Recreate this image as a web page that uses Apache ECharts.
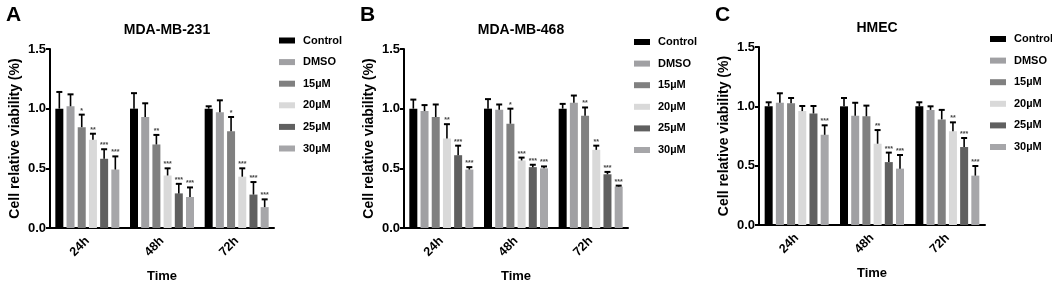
<!DOCTYPE html>
<html>
<head>
<meta charset="utf-8">
<script src="https://cdn.jsdelivr.net/npm/echarts@6/dist/echarts.min.js"></script>
<style>
  html, body { margin: 0; padding: 0; background: #fff; }
  #chart { width: 1052px; height: 282px; }
</style>
</head>
<body>
<div id="chart"></div>
<script>
const times = ['24h', '48h', '72h'];
const groups = ['Control', 'DMSO', '15µM', '20µM', '25µM', '30µM'];
const colors = ['#000000', '#a0a0a3', '#808080', '#d9d9d9', '#606060', '#a6a6a9'];
const yTicks = [0, 0.5, 1.0, 1.5];

// MDA-MB-231 (mean / sd / significance), one row per group
const mb231Mean = [
  [1.00, 1.00, 1.00],
  [1.02, 0.93, 0.97],
  [0.845, 0.70, 0.81],
  [0.74, 0.44, 0.43],
  [0.58, 0.29, 0.28],
  [0.49, 0.26, 0.175]
];
const mb231Sd = [
  [0.14, 0.13, 0.02],
  [0.10, 0.115, 0.10],
  [0.105, 0.08, 0.12],
  [0.05, 0.06, 0.07],
  [0.08, 0.08, 0.105],
  [0.11, 0.08, 0.065]
];
const mb231Sig = [
  ['', '', ''],
  ['', '', ''],
  ['*', '**', '*'],
  ['**', '***', '***'],
  ['***', '***', '***'],
  ['***', '***', '***']
];

// MDA-MB-468
const mb468Mean = [
  [1.00, 1.00, 1.00],
  [0.98, 0.99, 1.05],
  [0.93, 0.874, 0.94],
  [0.75, 0.566, 0.655],
  [0.61, 0.51, 0.45],
  [0.49, 0.50, 0.347]
];
const mb468Sd = [
  [0.076, 0.08, 0.04],
  [0.05, 0.045, 0.06],
  [0.105, 0.126, 0.07],
  [0.12, 0.024, 0.035],
  [0.08, 0.02, 0.02],
  [0.02, 0.016, 0.008]
];
const mb468Sig = [
  ['', '', ''],
  ['', '', ''],
  ['', '*', '**'],
  ['**', '***', '**'],
  ['***', '***', '***'],
  ['***', '***', '***']
];

// HMEC
const hmecMean = [
  [1.00, 1.00, 1.00],
  [1.03, 0.92, 0.97],
  [1.025, 0.916, 0.89],
  [0.96, 0.685, 0.79],
  [0.94, 0.53, 0.657],
  [0.76, 0.475, 0.416]
];
const hmecSd = [
  [0.034, 0.07, 0.034],
  [0.08, 0.11, 0.03],
  [0.045, 0.09, 0.08],
  [0.043, 0.115, 0.075],
  [0.063, 0.08, 0.076],
  [0.08, 0.115, 0.081]
];
const hmecSig = [
  ['', '', ''],
  ['', '', ''],
  ['', '', ''],
  ['', '**', '**'],
  ['', '***', '***'],
  ['***', '***', '***']
];

const FONT = 'Arial, "Liberation Sans", sans-serif';
const BAR_W = 8;
const BAR_GAP = 0.4;
const pitch = BAR_W * (1 + BAR_GAP);

const panels = [
  { letter: 'A', name: 'MDA-MB-231', mean: mb231Mean, sd: mb231Sd, sig: mb231Sig,
    grid: { left: 50, top: 49, width: 224, height: 179 }, legendLeft: 279, legendTop: 34 },
  { letter: 'B', name: 'MDA-MB-468', mean: mb468Mean, sd: mb468Sd, sig: mb468Sig,
    grid: { left: 404, top: 49, width: 224, height: 179 }, legendLeft: 634, legendTop: 35.5 },
  { letter: 'C', name: 'HMEC', mean: hmecMean, sd: hmecSd, sig: hmecSig,
    grid: { left: 759, top: 47, width: 226, height: 178 }, legendLeft: 990, legendTop: 32.5 }
];

const option = {
  animation: false,
  textStyle: { fontFamily: FONT },
  title: [], grid: [], xAxis: [], yAxis: [], legend: [], series: []
};

panels.forEach((p, k) => {
  const cx = p.grid.left + p.grid.width / 2;
  option.title.push({
    text: p.letter, left: p.grid.left - 49, top: 0,
    textStyle: { fontSize: 21, fontWeight: 'bold', color: '#000', fontFamily: FONT }
  });
  option.title.push({
    text: p.name, left: cx, top: p.grid.top - 31, textAlign: 'center',
    textStyle: { fontSize: 14, fontWeight: 'bold', color: '#000', fontFamily: FONT }
  });
  option.grid.push(Object.assign({ outerBoundsMode: 'none', containLabel: false }, p.grid));
  option.xAxis.push({
    type: 'category', gridIndex: k, data: times,
    name: 'Time', nameLocation: 'middle', nameGap: 42,
    nameTextStyle: { fontSize: 13, fontWeight: 'bold', color: '#000' },
    axisLine: { lineStyle: { color: '#000', width: 2 } },
    axisTick: { alignWithLabel: true, length: 4, lineStyle: { color: '#000', width: 2 } },
    axisLabel: { rotate: 45, fontSize: 12.5, fontWeight: 'bold', color: '#000', margin: 11 }
  });
  option.yAxis.push({
    type: 'value', gridIndex: k, min: 0, max: 1.5, interval: 0.5,
    name: 'Cell relative viability (%)', nameLocation: 'middle', nameGap: 28,
    nameTextStyle: { fontSize: 14, fontWeight: 'bold', color: '#000' },
    axisLine: { show: true, lineStyle: { color: '#000', width: 2 } },
    axisTick: { show: true, length: 4, lineStyle: { color: '#000', width: 2 } },
    axisLabel: { fontSize: 13, fontWeight: 'bold', color: '#000', margin: 4,
      formatter: v => yTicks.includes(v) ? v.toFixed(1) : '' },
    splitLine: { show: false }
  });
  option.legend.push({
    orient: 'vertical', left: p.legendLeft, top: p.legendTop, padding: 0,
    itemWidth: 16, itemHeight: 6, itemGap: 8.6, icon: 'rect',
    data: groups,
    textStyle: { fontSize: 11, fontWeight: 'bold', color: '#000', lineHeight: 13, padding: [0, 0, 0, 3] }
  });
  groups.forEach((g, i) => {
    option.series.push({
      type: 'bar', name: g, xAxisIndex: k, yAxisIndex: k,
      barWidth: BAR_W, barGap: (BAR_GAP * 100) + '%',
      itemStyle: { color: colors[i] },
      data: p.mean[i]
    });
  });
  // error bars + significance marks
  const errData = [];
  groups.forEach((g, i) => {
    times.forEach((t, j) => {
      errData.push([j, p.mean[i][j] + p.sd[i][j], p.mean[i][j], i, j]);
    });
  });
  option.series.push({
    type: 'custom', xAxisIndex: k, yAxisIndex: k, z: 5,
    encode: { x: 0, y: 1 },
    data: errData,
    renderItem: (params, api) => {
      const gi = api.value(3), ti = api.value(4);
      const off = (gi - (groups.length - 1) / 2) * pitch;
      const top = api.coord([api.value(0), api.value(1)]);
      const base = api.coord([api.value(0), api.value(2)]);
      const x = top[0] + off;
      const children = [
        { type: 'line', shape: { x1: x, y1: base[1], x2: x, y2: top[1] },
          style: { stroke: '#000', lineWidth: 1.6 } },
        { type: 'line', shape: { x1: x - 3, y1: top[1], x2: x + 3, y2: top[1] },
          style: { stroke: '#000', lineWidth: 2 } }
      ];
      const s = p.sig[gi][ti];
      if (s) {
        children.push({ type: 'text', x: x, y: top[1] - 0.5,
          style: { text: s, fontSize: 7, fontWeight: 'bold', fill: '#444',
            align: 'center', verticalAlign: 'bottom', fontFamily: FONT } });
      }
      return { type: 'group', children: children };
    }
  });
});

const chart = echarts.init(document.getElementById('chart'));
chart.setOption(option);
</script>
</body>
</html>
